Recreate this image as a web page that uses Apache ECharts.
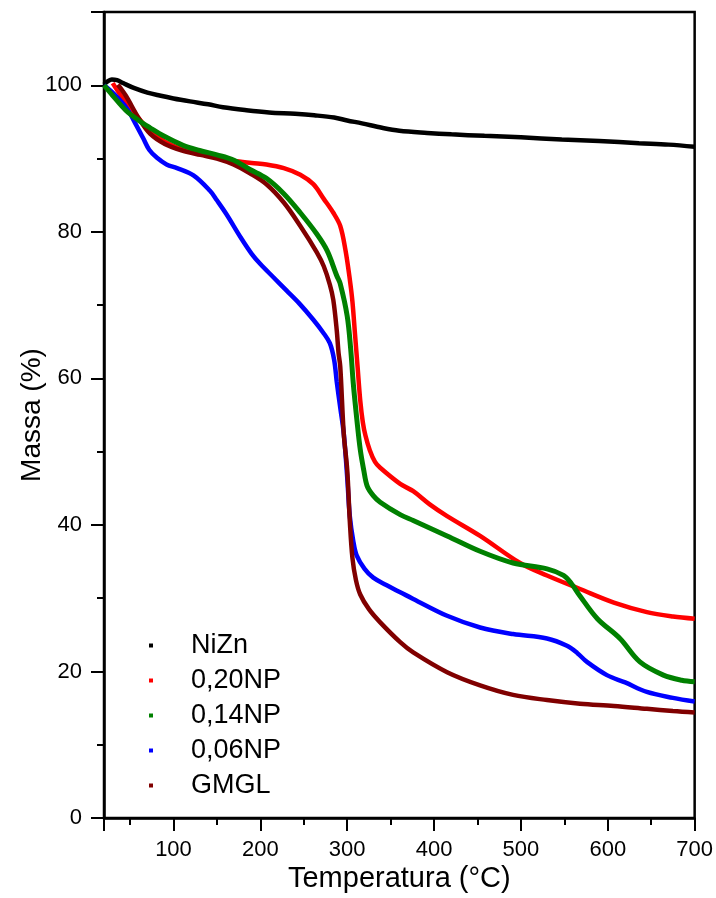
<!DOCTYPE html>
<html>
<head>
<meta charset="utf-8">
<script src="https://cdn.jsdelivr.net/npm/echarts@6/dist/echarts.min.js"></script>
<style>
html,body{margin:0;padding:0;background:#fff;}
#c{width:716px;height:898px;}
</style>
</head>
<body>
<div id="c"></div>
<script>
const seriesNames = ['NiZn', '0,20NP', '0,14NP', '0,06NP', 'GMGL'];
const xMajorTicks = [100, 200, 300, 400, 500, 600, 700];
const xMinorTicks = [50, 150, 250, 350, 450, 550, 650];
const yMajorTicks = [0, 20, 40, 60, 80, 100];
const yMinorTicks = [10, 30, 50, 70, 90, 110];

const nizn = [[20,100.1],[25,100.6],[29,100.8],[35,100.7],[42,100.3],[55,99.6],[70,99.0],[84,98.6],[100,98.2],[119,97.8],[140,97.4],[157,97.0],[184,96.6],[210,96.3],[240,96.1],[262,95.9],[285,95.6],[300,95.2],[317,94.8],[340,94.2],[360,93.8],[392,93.5],[420,93.3],[458,93.1],[500,92.9],[547,92.6],[590,92.4],[636,92.1],[670,91.9],[700,91.6]];
const np020 = [[30,100.3],[40,98.5],[55,96.2],[73,93.8],[90,92.3],[110,91.3],[131,90.7],[150,90.2],[169,89.7],[190,89.4],[207,89.2],[227,88.7],[246,87.8],[261,86.5],[273,84.5],[284,82.6],[292,80.8],[298,77.5],[303,73.5],[306,70.5],[309,66],[312,61.5],[315,57],[318,54],[321,52.2],[326,50.2],[332,48.6],[338,47.8],[361,45.6],[376,44.6],[395,42.8],[415,41.2],[453,38.5],[499,34.8],[530,33.1],[568,31.25],[607,29.4],[645,28.1],[675,27.5],[700,27.2]];
const np014 = [[20,100],[30,98.6],[45,96.6],[60,95.2],[73,94.2],[90,93.0],[111,91.8],[130,91.1],[150,90.5],[169,89.8],[188,88.5],[207,87.3],[227,85.2],[246,82.6],[265,79.7],[277,77.4],[288,74],[292,72.9],[300,68.5],[304,64],[307,59.3],[311,54.5],[315,50.3],[319,47.5],[323,45.3],[330,44],[338,43.1],[361,41.4],[376,40.6],[415,38.5],[453,36.4],[491,34.8],[530,34.0],[549,33.1],[558,32.0],[568,30.3],[588,27.2],[614,24.5],[637,21.3],[664,19.5],[685,18.8],[700,18.6]];
const np006 = [[20,100],[30,99],[46,96.9],[56,94.8],[65,92.8],[72,91.2],[81,90.1],[92,89.2],[104,88.7],[123,87.7],[142,85.6],[150,84.3],[161,82.4],[177,79.3],[190,77.0],[200,75.6],[215,73.8],[230,72.0],[245,70.2],[261,68.0],[272,66.3],[280,64.8],[285,62.5],[288,59.5],[292,56],[296,52.5],[300,46.5],[303,41.2],[307,37.8],[311,35.8],[320,34.0],[330,32.8],[345,31.8],[361,30.8],[376,29.9],[415,27.6],[453,26.0],[491,25.1],[530,24.5],[553,23.5],[565,22.5],[576,21.3],[599,19.5],[620,18.5],[645,17.2],[675,16.4],[700,15.9]];
const gmgl = [[36,100.1],[45,98.6],[60,95.5],[73,93.4],[90,92.0],[110,91.1],[131,90.5],[150,90.0],[169,89.2],[188,88.0],[207,86.5],[227,84.0],[246,80.8],[265,77.2],[273,75.3],[280,72.8],[284,70.7],[288,66.5],[290,63.5],[292,61.6],[296,52.5],[300,47.5],[303,40.5],[306,35.5],[310,32.5],[315,30.5],[325,28.5],[338,26.7],[361,24.0],[376,22.6],[415,19.9],[453,18.1],[491,16.8],[530,16.1],[568,15.6],[607,15.3],[645,14.9],[675,14.6],[700,14.4]];

const colors = {'NiZn':'#000000','0,20NP':'#ff0000','0,14NP':'#008000','0,06NP':'#0000ff','GMGL':'#800000'};
const FONT = 'Liberation Sans, Arial, sans-serif';

function line(name, data) {
  return {
    name: name, type: 'line', data: data,
    xAxisIndex: 0, yAxisIndex: 0,
    showSymbol: false, symbol: 'rect', symbolSize: 4,
    smooth: 0.35,
    lineStyle: {width: name === '0,14NP' ? 5 : 4.5, color: colors[name]},
    itemStyle: {color: colors[name]},
    animation: false
  };
}
function tickAxis(pos, ticks, len) {
  return {
    type: 'value', position: pos,
    min: pos === 'bottom' ? 20 : 0, max: pos === 'bottom' ? 700 : 110,
    axisLine: {show: false},
    axisTick: {show: true, length: len, lineStyle: {color: '#000', width: 2}, customValues: ticks.slice()},
    axisLabel: {show: false},
    splitLine: {show: false}
  };
}

const chart = echarts.init(document.getElementById('c'), null, {renderer: 'canvas'});
chart.setOption({
  backgroundColor: '#ffffff',
  animation: false,
  grid: {left: 104, right: 21, top: 12, bottom: 78, show: true, borderColor: '#000', borderWidth: 2.5, backgroundColor: 'transparent'},
  legend: {
    data: seriesNames,
    orient: 'vertical', left: 144, top: 623,
    icon: 'rect', itemWidth: 4, itemHeight: 4, itemGap: 0,
    textStyle: {fontFamily: FONT, fontSize: 27, color: '#000', lineHeight: 35, padding: [0, 0, 0, 33]}
  },
  xAxis: [{
    type: 'value', min: 20, max: 700,
    name: 'Temperatura (°C)', nameLocation: 'middle', nameGap: 46, nameMoveOverlap: false,
    nameTextStyle: {fontFamily: FONT, fontSize: 29, color: '#000'},
    axisLine: {show: true, lineStyle: {color: '#000', width: 2.5}},
    axisTick: {show: true, length: 13, lineStyle: {color: '#000', width: 2}},
    axisLabel: {fontFamily: FONT, fontSize: 22, color: '#000', margin: 21, customValues: xMajorTicks.slice()},
    splitLine: {show: false}
  }, tickAxis('bottom', xMinorTicks, 7)],
  yAxis: [{
    type: 'value', min: 0, max: 110, interval: 20,
    name: 'Massa (%)', nameLocation: 'middle', nameGap: 58, nameMoveOverlap: false,
    nameTextStyle: {fontFamily: FONT, fontSize: 28, color: '#000'},
    axisLine: {show: true, lineStyle: {color: '#000', width: 2.5}},
    axisTick: {show: true, length: 13, lineStyle: {color: '#000', width: 2}},
    axisLabel: {fontFamily: FONT, fontSize: 22, color: '#000', margin: 22, customValues: yMajorTicks.slice()},
    splitLine: {show: false}
  }, tickAxis('left', yMinorTicks, 7)],
  series: [
    line('NiZn', nizn),
    line('0,20NP', np020),
    line('0,06NP', np006),
    line('GMGL', gmgl),
    line('0,14NP', np014)
  ]
});
</script>
</body>
</html>
